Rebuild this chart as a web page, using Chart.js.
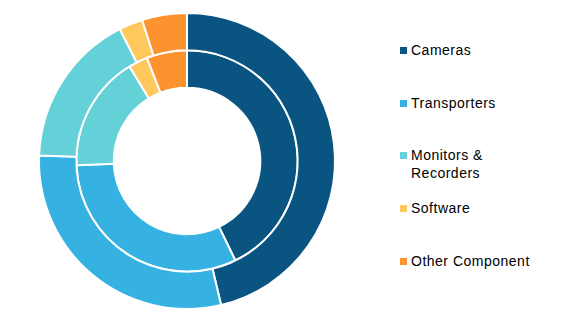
<!DOCTYPE html>
<html>
<head>
<meta charset="utf-8">
<script src="https://cdn.jsdelivr.net/npm/chart.js@4/dist/chart.umd.min.js"></script>
<style>
  body { margin: 0; background: #fff; }
  #wrap { position: relative; width: 580px; height: 322px; }
  #chartBox { position: absolute; left: 0; top: 0; width: 374px; height: 322px; }
  #legend { position: absolute; left: 400px; top: 0; width: 180px; height: 322px; }
  .item { position: absolute; left: 0; display: flex; align-items: flex-start; white-space: pre;
          font-family: "Liberation Sans", Arial, sans-serif; font-size: 14px; letter-spacing: 0.5px;
          line-height: 18px; color: #000; }
  .box { width: 7px; height: 7px; margin-top: 6px; margin-right: 4px; flex: none; }
</style>
</head>
<body>
<div id="wrap">
  <div id="chartBox"><canvas id="miGrafico"></canvas></div>
  <div id="legend"></div>
</div>
<script>
const categorias = ['Cameras', 'Transporters', 'Monitors &\nRecorders', 'Software', 'Other Component'];
const colores = ['#0a5482', '#35b2e2', '#64d0d8', '#ffc85c', '#fd932f'];
// anillo exterior
const valoresExterior = [46.3, 29.3, 16.9, 2.6, 4.9];
// anillo interior
const valoresInterior = [42.8, 31.6, 16.9, 2.8, 5.9];

const ctx = document.getElementById('miGrafico').getContext('2d');
const miGrafico = new Chart(ctx, {
    type: 'doughnut',
    data: {
        labels: categorias,
        datasets: [{
            data: valoresExterior,
            backgroundColor: colores,
            borderColor: '#ffffff',
            borderWidth: 2
        }, {
            data: valoresInterior,
            backgroundColor: colores,
            borderColor: '#ffffff',
            borderWidth: 2
        }]
    },
    options: {
        responsive: true,
        maintainAspectRatio: false,
        animation: false,
        cutout: '49.5%',
        layout: { padding: { top: 12, bottom: 12 } },
        plugins: {
            legend: { display: false },
            tooltip: { enabled: false }
        }
    }
});

// leyenda a la derecha
const legend = document.getElementById('legend');
categorias.forEach((cat, i) => {
    const item = document.createElement('div');
    item.className = 'item';
    item.style.top = (41 + i * 52.7) + 'px';
    const box = document.createElement('span');
    box.className = 'box';
    box.style.background = colores[i];
    const txt = document.createElement('span');
    txt.textContent = cat;
    item.appendChild(box);
    item.appendChild(txt);
    legend.appendChild(item);
});
</script>
</body>
</html>
